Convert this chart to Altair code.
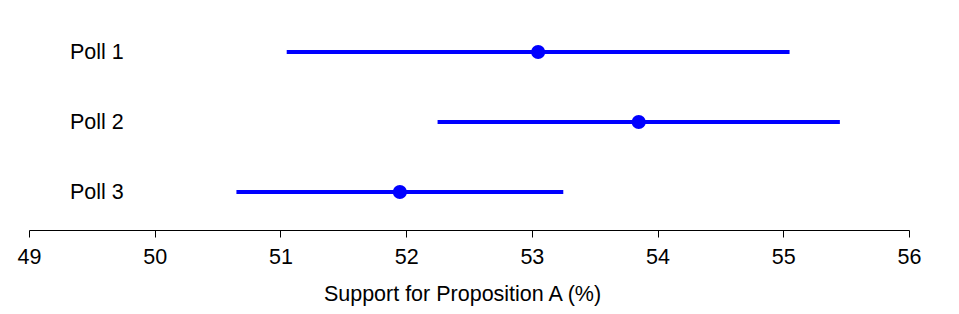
import altair as alt
import pandas as pd

polls = ["Poll 1", "Poll 2", "Poll 3"]
estimate = [53.05, 53.85, 51.95]
lower = [51.05, 52.25, 50.65]
upper = [55.05, 55.45, 53.25]
x_ticks = [49, 50, 51, 52, 53, 54, 55, 56]

df = pd.DataFrame({"poll": polls, "est": estimate, "lo": lower, "hi": upper})

FONT = "Liberation Sans"
BLUE = "#0000ff"
FS = 21.5

xscale = alt.Scale(domain=[49, 56], nice=False, zero=False)
yenc = alt.Y("poll:N", sort=polls,
             scale=alt.Scale(type="point", padding=0.543),
             axis=None)

base = alt.Chart(df)

bars = base.mark_rule(color=BLUE, strokeWidth=4).encode(
    x=alt.X("lo:Q", scale=xscale,
            axis=alt.Axis(values=x_ticks, title="Support for Proposition A (%)",
                          grid=False, domainColor="black", tickColor="black",
                          tickSize=7, labelFontSize=FS, labelFont=FONT,
                          labelColor="black", labelPadding=9, labelFlush=False,
                          titleFont=FONT, titleFontSize=FS, titleFontWeight="normal",
                          titleColor="black", titlePadding=16, titleX=433,
                          format="d")),
    x2="hi:Q",
    y=yenc,
)

points = base.mark_point(filled=True, color=BLUE, size=200, opacity=1).encode(
    x=alt.X("est:Q", scale=xscale),
    y=yenc,
)

labels = base.mark_text(align="left", baseline="middle", font=FONT,
                        fontSize=FS, color="black", dy=1).encode(
    x=alt.value(41),
    y=yenc,
    text="poll:N",
)

chart = alt.layer(bars, points, labels).properties(
    width=880, height=216,
    padding={"left": 29, "top": 14, "right": 50, "bottom": 84},
    autosize=alt.AutoSizeParams(type="none"),
).configure(background="white").configure_view(strokeWidth=0, stroke=None)

chart.save("out.html", embed_options={"renderer": "svg", "actions": False})
